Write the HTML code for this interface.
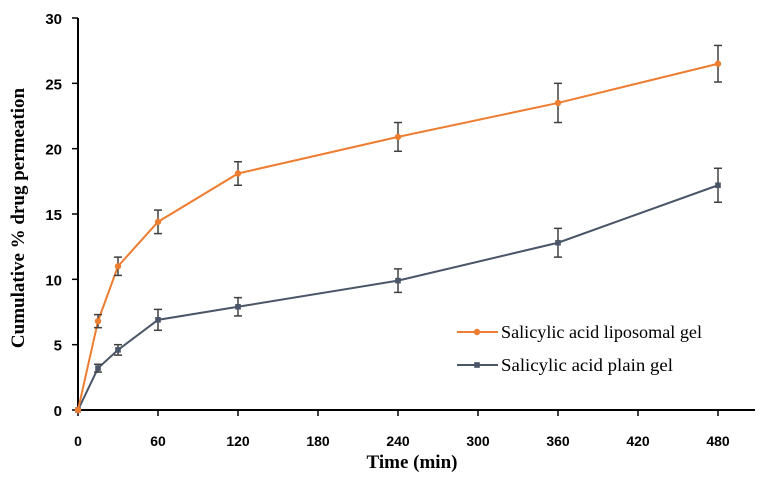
<!DOCTYPE html>
<html><head><meta charset="utf-8"><style>
body{margin:0;background:#fff}
svg text{font-family:"Liberation Serif",serif;font-weight:bold;fill:#000}
svg text.tk{font-family:"Liberation Sans",sans-serif;}
</style></head><body>
<svg id="c" width="772" height="478" xmlns="http://www.w3.org/2000/svg"></svg>
<script>
const times=[0,15,30,60,120,240,360,480];
const lipo=[0,6.8,11,14.4,18.1,20.9,23.5,26.5];
const lipoErr=[0,0.5,0.7,0.9,0.9,1.1,1.5,1.4];
const plain=[0,3.2,4.6,6.9,7.9,9.9,12.8,17.2];
const plainErr=[0,0.3,0.4,0.8,0.7,0.9,1.1,1.3];
const xTicks=[0,60,120,180,240,300,360,420,480];
const yTicks=[0,5,10,15,20,25,30];
const svg=document.getElementById('c');
const NS='http://www.w3.org/2000/svg';
const X=v=>78+v*80/60, Y=v=>410-v*(392/30);
function mk(t,a,p){const e=document.createElementNS(NS,t);for(const k in a)e.setAttribute(k,a[k]);(p||svg).appendChild(e);return e;}
let ax=mk('line',{x1:78,y1:18,x2:78,y2:410,stroke:'#000','stroke-width':2});


ax=mk('line',{x1:77,y1:410,x2:755,y2:410,stroke:'#000','stroke-width':2});


yTicks.forEach(v=>{mk('line',{x1:72,y1:Y(v),x2:78,y2:Y(v),stroke:'#000','stroke-width':1.5});
const t=mk('text',{x:62,y:Y(v)+6,'text-anchor':'end','font-size':15,class:'tk'});t.textContent=v;

});
xTicks.forEach(v=>{mk('line',{x1:X(v),y1:410,x2:X(v),y2:416,stroke:'#000','stroke-width':1.5});
const t=mk('text',{x:X(v),y:446,'text-anchor':'middle','font-size':14,class:'tk'});t.textContent=v;

});
let t=mk('text',{x:412,y:468,'text-anchor':'middle','font-size':19});t.textContent='Time (min)';


t=mk('text',{x:0,y:0,'text-anchor':'middle','font-size':19,transform:'translate(24,218) rotate(-90)'});t.textContent='Cumulative % drug permeation';


function series(vals,errs,color,name,marker){
 const g=mk('g',{});
 
 
 mk('polyline',{points:times.map((x,i)=>X(x)+','+Y(vals[i])).join(' '),fill:'none',stroke:color,'stroke-width':2},g);
 times.forEach((x,i)=>{
  const cx=X(x),cy=Y(vals[i]);
  if(errs[i]>0){const a=Y(vals[i]+errs[i]),b=Y(vals[i]-errs[i]);
   mk('line',{x1:cx,y1:a,x2:cx,y2:b,stroke:'#404040','stroke-width':1.5},g);
   mk('line',{x1:cx-4,y1:a,x2:cx+4,y2:a,stroke:'#404040','stroke-width':1.5},g);
   mk('line',{x1:cx-4,y1:b,x2:cx+4,y2:b,stroke:'#404040','stroke-width':1.5},g);}
  const m=marker=='c'?mk('circle',{cx,cy,r:3.2,fill:color},g):mk('rect',{x:cx-2.8,y:cy-2.8,width:5.6,height:5.6,fill:color},g);
  
  
 });
}
series(plain,plainErr,'#4a5568','series-plain-gel','s');
series(lipo,lipoErr,'#ed7d31','series-liposomal-gel','c');
function legend(y,color,label,marker,name){
 const g=mk('g',{});
 
 
 mk('line',{x1:457,y1:y,x2:498,y2:y,stroke:color,'stroke-width':2},g);
 if(marker=='c')mk('circle',{cx:477,cy:y,r:3.2,fill:color},g);else mk('rect',{x:474.2,y:y-2.8,width:5.6,height:5.6,fill:color},g);
 const t=mk('text',{x:501,y:y+6,'font-size':18,textLength:label.length>25?201:172,lengthAdjust:'spacingAndGlyphs',style:'font-weight:normal'},g);t.textContent=label;
}
legend(332,'#ed7d31','Salicylic acid liposomal gel','c','legend-liposomal');
legend(365,'#4a5568','Salicylic acid plain gel','s','legend-plain');
</script>
</body></html>
